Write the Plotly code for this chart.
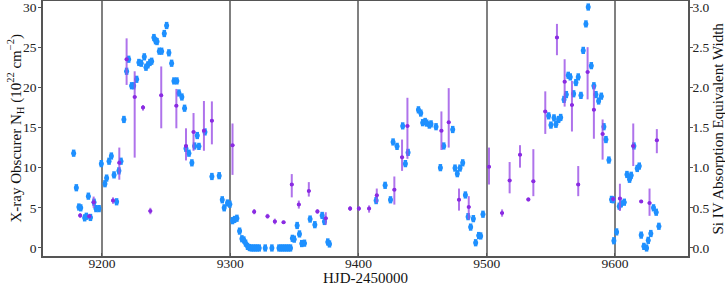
import plotly.graph_objects as go

# Blue: X-ray obscurer column density (10^22 cm^-2)
blue_day = [9177.9, 9180.0, 9182.0, 9183.4, 9186.5, 9187.8, 9189.4, 9191.0, 9193.8, 9195.3,
            9197.7, 9199.5, 9202.3, 9203.6, 9205.5, 9207.3, 9209.4, 9211.4, 9213.2, 9214.8,
            9217.1, 9219.2, 9220.8, 9223.1, 9224.7, 9227.0, 9228.8, 9230.6, 9233.0, 9234.3,
            9235.8, 9237.4, 9238.7, 9240.5, 9241.8, 9242.9, 9244.7, 9246.5, 9248.6, 9250.4,
            9252.2, 9254.3, 9256.1, 9258.4, 9260.0, 9262.3, 9264.4, 9265.5, 9267.8, 9270.1,
            9272.2, 9274.3, 9275.6, 9280.3, 9285.7, 9291.4, 9293.8, 9295.3, 9297.9, 9299.7,
            9301.8, 9303.4, 9305.2, 9307.3, 9309.1, 9310.6, 9312.0, 9313.5, 9315.0, 9316.5,
            9318.0, 9319.5, 9321.0, 9322.6, 9327.3, 9332.5, 9338.0, 9339.5, 9341.0, 9342.5,
            9344.0, 9345.5, 9347.0, 9348.5, 9349.9, 9352.2, 9354.0, 9355.8, 9357.9, 9362.3,
            9366.0, 9371.7, 9373.5, 9376.1, 9377.4, 9413.8, 9420.8, 9425.0, 9427.0, 9430.1,
            9434.5, 9436.6, 9438.7, 9446.8, 9448.6, 9450.1, 9452.0, 9453.2, 9455.3, 9456.6,
            9460.5, 9463.9, 9466.5, 9473.5, 9475.3, 9477.1, 9479.2, 9481.3, 9483.4, 9485.5,
            9487.5, 9489.6, 9491.4, 9493.8, 9495.3, 9497.1, 9548.3, 9550.1, 9552.5, 9554.0,
            9556.1, 9557.7, 9560.3, 9562.1, 9563.6, 9565.2, 9567.8, 9569.6, 9571.4, 9573.5,
            9575.3, 9577.4, 9579.2, 9581.6, 9583.6, 9585.2, 9587.3, 9589.4, 9591.4, 9593.0,
            9595.3, 9597.4, 9598.7, 9599.2, 9601.3, 9603.4, 9604.9, 9607.3, 9609.4, 9611.4,
            9612.7, 9614.8, 9617.4, 9619.0, 9620.5, 9622.6, 9624.7, 9626.0, 9628.0, 9630.1,
            9632.2, 9634.3]
blue_nh = [11.8, 7.5, 5.1, 5.0, 3.75, 3.95, 6.45, 3.8, 5.7, 4.9,
           4.9, 10.5, 8.0, 8.7, 10.8, 11.45, 9.1, 5.75, 9.6, 10.8,
           16.0, 22.0, 23.5, 20.2, 20.2, 21.0, 23.1, 23.0, 23.8, 22.5,
           22.8, 23.1, 23.25, 26.2, 25.8, 25.7, 24.5, 24.5, 26.7, 27.7,
           24.3, 23.0, 20.8, 20.8, 19.3, 18.8, 17.4, 12.4, 11.8, 10.6,
           12.7, 14.0, 12.65, 14.45, 8.9, 9.0, 6.0, 5.0, 5.6, 5.45,
           3.4, 3.55, 3.7, 2.1, 1.15, 1.0, 0.6, 0.2, 0.05, 0.0,
           0.0, 0.0, 0.0, 0.0, 0.0, 0.0, 0.0, 0.0, 0.0, 0.0,
           0.0, 0.0, 0.0, 1.2, 1.1, 2.8, 1.75, 0.55, 0.6, 3.6,
           2.9, 4.05, 3.3, 0.75, 0.5, 5.9, 7.8, 6.0, 13.2, 12.65,
           15.2, 10.5, 11.9, 17.2, 16.8, 15.6, 15.75, 15.55, 15.3, 15.45,
           15.1, 10.0, 12.7, 14.75, 9.95, 9.25, 9.95, 10.6, 6.6, 3.9,
           2.6, 3.65, 0.65, 1.55, 1.5, 4.2, 16.45, 15.3, 16.2, 15.4,
           16.0, 16.25, 18.5, 19.1, 21.5, 21.3, 19.2, 20.6, 21.3, 19.0,
           24.6, 27.9, 30.0, 22.7, 20.2, 19.1, 18.3, 18.9, 15.1, 13.5,
           10.95, 6.05, 6.0, 0.9, 2.0, 5.2, 5.5, 5.7, 9.15, 8.55,
           9.05, 12.7, 9.9, 10.2, 1.6, 0.2, 0.0, 0.95, 1.8, 5.0,
           4.45, 2.7]
blue_err = [0.45] * len(blue_nh)

# Purple: Si IV absorption equivalent width, with upper / lower bounds
purple_day = [9183.0, 9190.1, 9193.5, 9208.6, 9213.5, 9219.2, 9225.5, 9232.0, 9237.7, 9246.2,
              9258.0, 9265.5, 9271.4, 9279.5, 9285.7, 9301.8, 9318.7, 9329.1, 9334.8, 9341.6,
              9348.0, 9353.5, 9361.3, 9368.0, 9374.5, 9393.5, 9400.3, 9408.3, 9414.3, 9428.0,
              9434.0, 9438.2, 9464.7, 9470.4, 9478.4, 9486.0, 9501.8, 9512.0, 9517.9, 9526.0,
              9532.5, 9536.4, 9545.7, 9554.8, 9560.8, 9566.5, 9571.4, 9578.7, 9583.6, 9590.4,
              9598.7, 9603.9, 9614.3, 9620.5, 9627.0, 9632.7]
purple_ew = [0.405, 0.395, 0.57, 0.59, 1.06, 2.35, 1.88, 1.75, 0.46, 1.90,
             1.77, 1.27, 1.445, 1.46, 1.585, 1.28, 0.45, 0.395, 0.33, 0.32,
             0.79, 0.54, 0.71, 0.455, 0.37, 0.49, 0.49, 0.49, 0.655, 0.725,
             1.13, 1.52, 1.46, 1.565, 0.60, 0.51, 1.01, 0.435, 0.84, 1.16,
             0.605, 0.83, 1.70, 2.62, 2.07, 1.78, 0.79, 2.19, 1.72, 1.42,
             0.61, 0.615, 1.27, 0.58, 0.56, 1.34]
purple_hi = [0.435, 0.42, 0.64, 0.63, 1.25, 2.61, 2.20, 1.78, 0.50, 2.26,
             1.98, 1.49, 1.68, 1.83, 1.825, 1.55, 0.485, 0.425, 0.365, 0.34,
             0.92, 0.59, 0.82, 0.485, 0.445, 0.52, 0.52, 0.53, 0.74, 0.89,
             1.35, 1.87, 1.70, 1.99, 0.74, 0.645, 1.25, 0.48, 1.07, 1.28,
             0.63, 1.23, 1.95, 2.79, 2.35, 2.08, 1.02, 2.50, 2.03, 1.60,
             0.64, 0.80, 1.55, 0.60, 0.74, 1.48]
purple_lo = [0.375, 0.37, 0.50, 0.55, 0.85, 2.03, 1.125, 1.71, 0.42, 1.49,
             1.49, 1.09, 1.21, 1.21, 1.29, 0.91, 0.42, 0.365, 0.295, 0.30,
             0.63, 0.49, 0.64, 0.425, 0.29, 0.46, 0.46, 0.44, 0.56, 0.54,
             0.96, 1.11, 1.22, 1.25, 0.465, 0.355, 0.79, 0.39, 0.68, 1.00,
             0.58, 0.645, 1.42, 2.40, 1.76, 1.45, 0.645, 1.85, 1.36, 1.10,
             0.58, 0.46, 1.02, 0.56, 0.40, 1.18]
purple_dx = [1.4] * len(purple_day)

x_ticks = [9200, 9300, 9400, 9500, 9600]
y_ticks = [0, 5, 10, 15, 20, 25, 30]
y2_ticks = [0.0, 0.5, 1.0, 1.5, 2.0, 2.5, 3.0]

x_title = "HJD-2450000"
y_title = "X-ray Obscurer N<sub>H</sub> (10<sup>22</sup> cm<sup>\u22122</sup>)"
y2_title = "Si IV Absorption Equivalent Width"

BLUE = "#1e90ff"
PURPLE = "#8a2be2"
FONT = "Liberation Serif, serif"
TICKFONT = dict(family=FONT, size=13.5, color="#222222")
TITLEFONT = dict(family=FONT, size=15, color="#111111")

fig = go.Figure()
fig.add_trace(go.Scatter(
    x=blue_day, y=blue_nh, mode="markers",
    marker=dict(color=BLUE, size=5),
    error_y=dict(type="data", array=blue_err, color=BLUE, thickness=3.5, width=0),
    showlegend=False, yaxis="y"))
fig.add_trace(go.Scatter(
    x=purple_day, y=purple_ew, mode="markers",
    marker=dict(color=PURPLE, size=4),
    error_y=dict(type="data", symmetric=False,
                 array=[h - v for h, v in zip(purple_hi, purple_ew)],
                 arrayminus=[v - l for l, v in zip(purple_lo, purple_ew)],
                 color="rgba(155,80,230,0.8)", thickness=2, width=0),
    error_x=dict(type="data", array=purple_dx, color=PURPLE, thickness=2, width=0),
    showlegend=False, yaxis="y2"))

axis_line = "#555555"
fig.update_layout(
    width=725, height=285,
    margin=dict(l=43, r=37, t=1, b=29),
    paper_bgcolor="white", plot_bgcolor="white",
    font=dict(family=FONT, size=14, color="#222222"),
    xaxis=dict(range=[9154, 9657], tickvals=x_ticks, ticks="inside", ticklen=3,
               tickcolor=axis_line, showline=True, linecolor=axis_line, linewidth=1.5,
               mirror=True, showgrid=True, gridcolor="#808080", gridwidth=1.5,
               zeroline=False, automargin=False, tickfont=TICKFONT,
               ticklabelstandoff=-6, ticklabeloverflow="allow"),
    yaxis=dict(range=[-1, 30.75], tickvals=y_ticks, ticks="outside", ticklen=3,
               tickcolor=axis_line, showline=True, linecolor=axis_line, linewidth=1.5,
               showgrid=False, zeroline=False, automargin=False, tickfont=TICKFONT,
               ticklabelstandoff=-1, ticklabeloverflow="allow"),
    yaxis2=dict(range=[-0.1, 3.075], tickvals=y2_ticks, tickformat=".1f", overlaying="y",
                side="right", ticks="outside", ticklen=3, tickcolor=axis_line,
                showline=True, linecolor=axis_line, linewidth=1.5, showgrid=False,
                zeroline=False, automargin=False, tickfont=TICKFONT,
                ticklabelstandoff=-3, ticklabeloverflow="allow"),
    annotations=[
        dict(text=x_title, xref="paper", yref="paper", x=0.5, y=-0.086,
             xanchor="center", yanchor="middle", showarrow=False, font=TITLEFONT),
        dict(text=y_title, xref="paper", yref="paper", x=-0.0434, y=0.5,
             xanchor="center", yanchor="middle", showarrow=False, font=TITLEFONT,
             textangle=-90),
        dict(text=y2_title, xref="paper", yref="paper", x=1.0450, y=0.5,
             xanchor="center", yanchor="middle", showarrow=False, font=TITLEFONT,
             textangle=-90),
    ],
)

fig.write_html("out.html", config={"displayModeBar": False},
               post_script="document.body.style.margin='0';document.body.style.overflow='hidden';")
